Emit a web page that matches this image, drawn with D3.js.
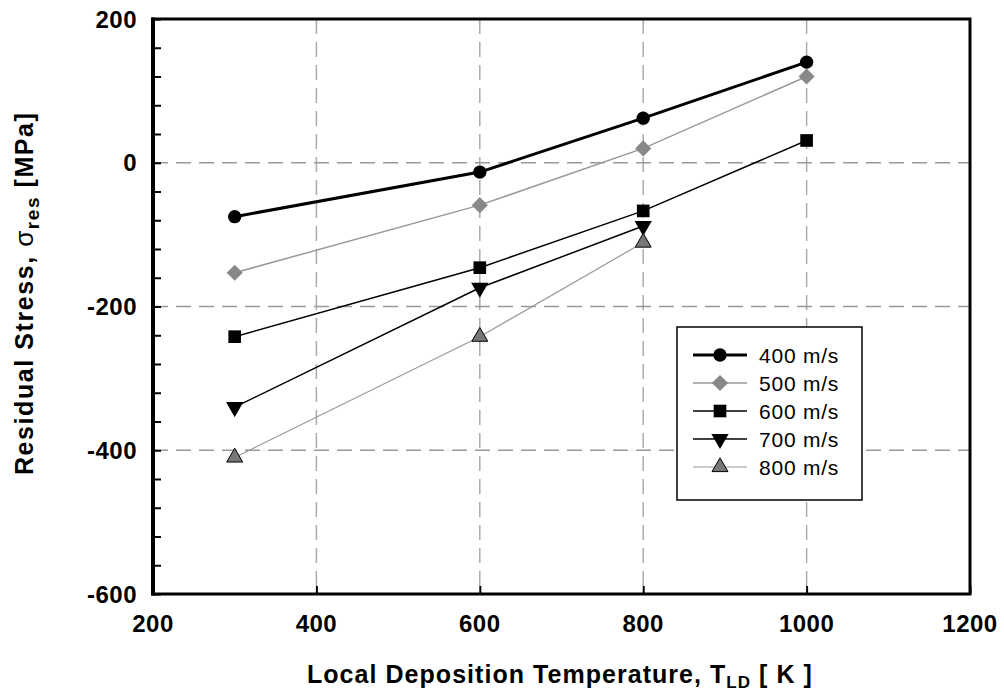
<!DOCTYPE html>
<html>
<head>
<meta charset="utf-8">
<script src="https://cdn.jsdelivr.net/npm/d3@7"></script>
<style>
  body { margin: 0; background: #fff; }
  svg text { font-family: Arial, "Liberation Sans", sans-serif; }
</style>
</head>
<body>
<svg id="chart" width="1004" height="695"></svg>
<script>
// data
var temps = [300, 600, 800, 1000];
var labels = ["400 m/s", "500 m/s", "600 m/s", "700 m/s", "800 m/s"];
var v400 = [-75, -13, 62, 140];
var v500 = [-153, -59, 20, 120];
var v600 = [-242, -146, -67, 31];
var v700 = [-340, -174, -88];
var v800 = [-410, -242, -111];
var xTicks = [200, 400, 600, 800, 1000, 1200];
var yTicks = [200, 0, -200, -400, -600];

var series = [
  { name: labels[0], vals: v400, color: "#000", width: 3, sym: d3.symbolCircle, size: 140, fill: "#000", stroke: "none", rot: 0 },
  { name: labels[1], vals: v500, color: "#999", width: 1.5, sym: d3.symbolSquare, size: 130, fill: "#888", stroke: "none", rot: 45 },
  { name: labels[2], vals: v600, color: "#000", width: 1.5, sym: d3.symbolSquare, size: 160, fill: "#000", stroke: "none", rot: 0 },
  { name: labels[3], vals: v700, color: "#000", width: 1.5, sym: d3.symbolTriangle, size: 130, fill: "#000", stroke: "none", rot: 180 },
  { name: labels[4], vals: v800, color: "#999", width: 1.2, sym: d3.symbolTriangle, size: 110, fill: "#777", stroke: "#000", rot: 0 }
];

var svg = d3.select("#chart");
var pL = 153, pR = 970, pT = 19, pB = 594;

var x = d3.scaleLinear().domain([200, 1200]).range([pL, pR]);
var y = d3.scaleLinear().domain([-600, 200]).range([pB, pT]);

// stretch a text to a given width with letter spacing
function fitWidth(t, w) {
  var n = t.text().length;
  var cur = t.node().getComputedTextLength();
  t.attr("letter-spacing", ((w - cur) / n).toFixed(2));
}

// grid
var grid = svg.append("g");
grid.selectAll(".gx").data([400, 600, 800, 1000]).enter().append("line")
  .attr("x1", d => x(d)).attr("x2", d => x(d))
  .attr("y1", pT).attr("y2", pB)
  .attr("stroke", "#aaa").attr("stroke-width", 1.5).attr("stroke-dasharray", "15,8");
grid.selectAll(".gy").data([0, -200, -400]).enter().append("line")
  .attr("x1", pL).attr("x2", pR)
  .attr("y1", d => y(d)).attr("y2", d => y(d))
  .attr("stroke", "#999").attr("stroke-width", 1.5).attr("stroke-dasharray", "15,8");

// axes with inward ticks
var yAxis = d3.axisLeft(y).tickValues(d3.range(-600, 201, 40)).tickSize(-8).tickFormat("");
svg.append("g").attr("transform", "translate(" + pL + ",0)").call(yAxis)
  .call(g => g.select(".domain").remove())
  .selectAll("line").attr("stroke", "#000").attr("stroke-width", 2);

var xAxis = d3.axisBottom(x).tickValues(xTicks).tickSize(-8).tickFormat("");
svg.append("g").attr("transform", "translate(0," + pB + ")").call(xAxis)
  .call(g => g.select(".domain").remove())
  .selectAll("line").attr("stroke", "#000").attr("stroke-width", 2);

// tick labels
svg.append("g").selectAll("text").data(yTicks).enter().append("text")
  .attr("x", pL - 16).attr("y", d => y(d)).attr("dy", "0.36em")
  .attr("text-anchor", "end").attr("font-size", 24).attr("font-weight", "bold")
  .attr("letter-spacing", 0.5)
  .text(d => d);
svg.append("g").selectAll("text").data(xTicks).enter().append("text")
  .attr("x", d => x(d)).attr("y", pB + 38)
  .attr("text-anchor", "middle").attr("font-size", 24).attr("font-weight", "bold")
  .attr("letter-spacing", 0.5)
  .text(d => d);

// frame
svg.append("rect").attr("x", pL).attr("y", pT)
  .attr("width", pR - pL).attr("height", pB - pT)
  .attr("fill", "none").attr("stroke", "#000").attr("stroke-width", 3);
svg.append("line").attr("x1", pL).attr("x2", pL).attr("y1", pT - 1.5).attr("y2", pB + 1.5)
  .attr("stroke", "#000").attr("stroke-width", 4);

// series
var line = d3.line().x((d, i) => x(temps[i])).y(d => y(d));
series.forEach(function(s) {
  svg.append("path").datum(s.vals).attr("d", line)
    .attr("fill", "none").attr("stroke", s.color).attr("stroke-width", s.width);
  svg.append("g").selectAll("path").data(s.vals).enter().append("path")
    .attr("d", d3.symbol().type(s.sym).size(s.size))
    .attr("transform", (d, i) => "translate(" + x(temps[i]) + "," + y(d) + ") rotate(" + s.rot + ")")
    .attr("fill", s.fill).attr("stroke", s.stroke).attr("stroke-width", 1);
});

// legend
var lg = svg.append("g").attr("transform", "translate(677,327)");
lg.append("rect").attr("width", 185).attr("height", 173)
  .attr("fill", "#fff").attr("stroke", "#000").attr("stroke-width", 1.5);
var item = lg.selectAll(".item").data(series).enter().append("g")
  .attr("transform", (d, i) => "translate(0," + (28 + i * 28) + ")");
item.append("line").attr("x1", 16).attr("x2", 70)
  .attr("stroke", d => d.color).attr("stroke-width", d => d.width);
item.append("path")
  .attr("d", d => d3.symbol().type(d.sym).size(d.size)())
  .attr("transform", d => "translate(43,0) rotate(" + d.rot + ")")
  .attr("fill", d => d.fill).attr("stroke", d => d.stroke);
item.append("text").attr("x", 82).attr("dy", "0.36em")
  .attr("font-size", 21).text(d => d.name)
  .each(function() { fitWidth(d3.select(this), 80); });

// axis titles
var xt = svg.append("text").attr("x", 307).attr("y", 683)
  .attr("font-size", 25).attr("font-weight", "bold");
xt.append("tspan").text("Local Deposition Temperature, T");
xt.append("tspan").attr("font-size", 17).attr("dy", 5).text("LD");
xt.append("tspan").attr("dy", -5).text(" [ K ]");
fitWidth(xt, 506);

var yt = svg.append("text").attr("transform", "translate(33,475) rotate(-90)")
  .attr("font-size", 25).attr("font-weight", "bold");
yt.append("tspan").text("Residual Stress, ");
yt.append("tspan").attr("font-weight", "normal").attr("font-size", 26).text("\u03C3");
yt.append("tspan").attr("font-size", 19).attr("dy", 6).text("res");
yt.append("tspan").attr("dy", -6).text("  [MPa]");
fitWidth(yt, 365);
</script>
</body>
</html>
